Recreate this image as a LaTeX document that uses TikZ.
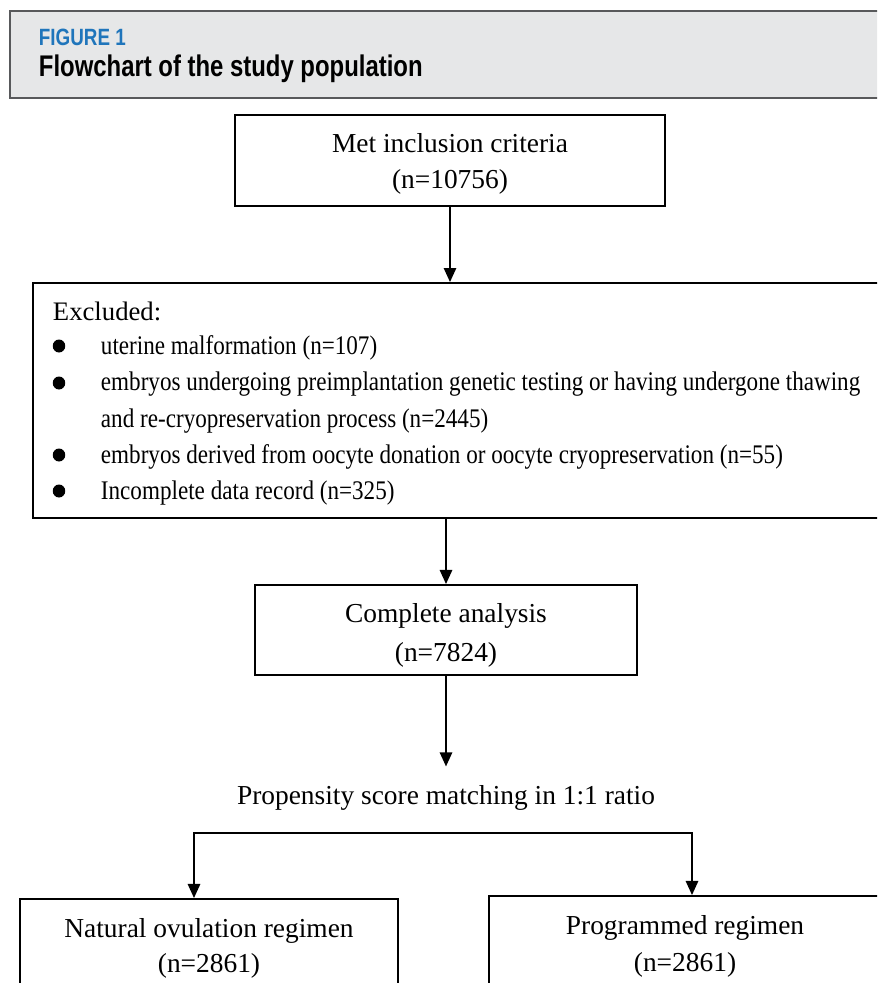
\documentclass[tikz,border=0pt]{standalone}
\usepackage{fontspec}
\setmainfont{Liberation Serif}
\newfontfamily\headfont[FakeStretch=0.8]{Liberation Sans}
\newfontfamily\itemfont[FakeStretch=0.86]{Liberation Serif}
\usetikzlibrary{arrows.meta}
\definecolor{headgray}{HTML}{E6E7E8}
\definecolor{headline}{HTML}{58595B}
\definecolor{figblue}{HTML}{1F75BB}
\tikzset{
  stage/.style={draw, line width=1.1pt, inner sep=0pt},
  stagetext/.style={anchor=base, inner sep=0pt, font=\fontsize{15.6}{18}\selectfont},
  itemtext/.style={anchor=base west, inner sep=0pt, font=\itemfont\fontsize{15.3}{18}\selectfont},
}
\begin{document}
\begin{tikzpicture}[x=0.02cm, y=-0.02cm, line width=1.1pt, >={Triangle[length=8pt,width=7pt]}]
	\useasboundingbox (0,0) rectangle (877,983);
	\clip (0,0) rectangle (877,983);
	% header
	\node[draw=headline, fill=headgray, line width=0.9pt, minimum width=17.7cm, minimum height=1.74cm, inner sep=0pt] (head) at (452.5,54.5) {};
	\node[anchor=base west, inner sep=0pt, text=figblue, font=\headfont\bfseries\fontsize{13.4}{16}\selectfont] (fig) at (38,46) {FIGURE 1};
	\node[anchor=base west, inner sep=0pt, font=\headfont\bfseries\fontsize{17}{20}\selectfont] (title) at (38,77) {Flowchart of the study population};
	% inclusion
	\node[stage, minimum width=8.6cm, minimum height=1.82cm] (met) at (450,160.5) {};
	\node[stagetext] (met1) at (450,153) {Met inclusion criteria};
	\node[stagetext] (met2) at (450,189) {(n=10756)};
	% exclusion
	\node[stage, minimum width=16.94cm, minimum height=4.7cm] (excl) at (456.5,400.5) {};
	\node[anchor=base west, inner sep=0pt, font=\fontsize{15.2}{18}\selectfont] (exhead) at (52,320) {Excluded:};
	\node[itemtext] (ex1) at (100,354) {uterine malformation (n=107)};
	\node[itemtext] (ex2) at (100,390.5) {embryos undergoing preimplantation genetic testing or having undergone thawing};
	\node[itemtext] (ex2b) at (100,427) {and re-cryopreservation process (n=2445)};
	\node[itemtext] (ex3) at (100,463) {embryos derived from oocyte donation or oocyte cryopreservation (n=55)};
	\node[itemtext] (ex4) at (100,499) {Incomplete data record (n=325)};
	\foreach \yb in {346,383,455,491}
		\fill (59,\yb) ellipse [x radius=0.125cm, y radius=0.13cm];
	% analysis
	\node[stage, minimum width=7.64cm, minimum height=1.8cm] (ana) at (446,630) {};
	\node[stagetext] (ana1) at (446,622) {Complete analysis};
	\node[stagetext] (ana2) at (446,661) {(n=7824)};
	\node[stagetext] (psm) at (446,804) {Propensity score matching in 1:1 ratio};
	% groups
	\node[stage, minimum width=7.56cm, minimum height=1.86cm] (nat) at (209,945.5) {};
	\node[stagetext] (nat1) at (209,937) {Natural ovulation regimen};
	\node[stagetext] (nat2) at (209,972) {(n=2861)};
	\node[stage, minimum width=7.84cm, minimum height=1.9cm] (pro) at (685,943.5) {};
	\node[stagetext] (pro1) at (685,934) {Programmed regimen};
	\node[stagetext] (pro2) at (685,971) {(n=2861)};
	\coordinate (sl) at (194,833);
	\coordinate (sr) at (692,833);
	% connectors
	\draw[->] (met.south) -- (met.south |- excl.north);
	\draw[->] (excl.south -| ana.north) -- (ana.north);
	\draw[->, shorten >=10pt] (ana.south) -- (psm.north);
	\draw[<->] (sl |- nat.north) -- (sl) -- (sr) -- (sr |- pro.north);
\end{tikzpicture}
\end{document}
